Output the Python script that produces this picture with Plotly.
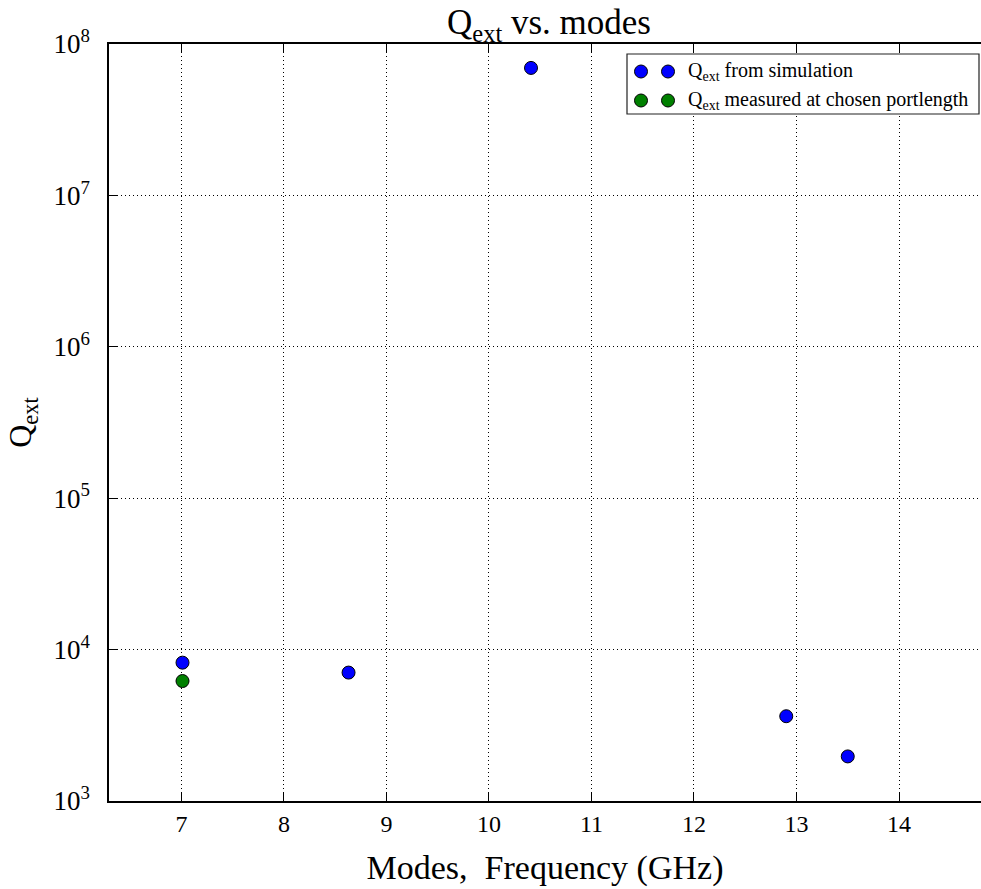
import math
import plotly.graph_objects as go

# Simulated external Q per mode
sim_freq = [7.01, 8.63, 10.41, 12.90, 13.50]
sim_qext = [8200, 7050, 6.95e7, 3630, 1970]

# External Q measured at the chosen port length
meas_freq = [7.01]
meas_qext = [6200]

sim_label = "Q<sub>ext</sub> from simulation"
meas_label = "Q<sub>ext</sub> measured at chosen portlength"

x_ticks = [7, 8, 9, 10, 11, 12, 13, 14]
y_exponents = [3, 4, 5, 6, 7, 8]
y_ticks = [10 ** e for e in y_exponents]
y_ticktext = [f"10<sup>{e}</sup>" for e in y_exponents]
y_minor = [m * 10 ** e for e in range(3, 8) for m in range(2, 10)]

FONT = "Liberation Serif"
W, H = 981, 889
ML, MR, MT, MB = 109, 0, 44, 88
GRID_DASH = "1px,3px"

fig = go.Figure()

marker_line = dict(color="black", width=1)
fig.add_trace(go.Scatter(x=sim_freq, y=sim_qext, mode="markers", name=sim_label,
                         marker=dict(size=13, color="#0000ff", line=marker_line),
                         showlegend=False))
fig.add_trace(go.Scatter(x=meas_freq, y=meas_qext, mode="markers", name=meas_label,
                         marker=dict(size=13, color="#008000", line=marker_line),
                         showlegend=False))

axis_common = dict(
    showline=True, linecolor="black", linewidth=1.5,
    ticks="inside", ticklen=8, tickwidth=1, tickcolor="black",
    showgrid=True, gridcolor="black", griddash=GRID_DASH, gridwidth=1,
    zeroline=False,
)

fig.update_xaxes(**axis_common, range=[6.293, 14.80], tickvals=x_ticks,
                 mirror="ticks",
                 tickfont=dict(family=FONT, size=24, color="black"),
                 title=dict(text="Modes,  Frequency (GHz)", standoff=20,
                            font=dict(family=FONT, size=34, color="black")))
fig.update_yaxes(**axis_common, type="log", range=[3, 8],
                 tickmode="array", tickvals=y_ticks, ticktext=y_ticktext,
                 ticklabelstandoff=12,
                 tickfont=dict(family=FONT, size=27, color="black"),
                 title=dict(text="Q<sub>ext</sub>", standoff=12,
                            font=dict(family=FONT, size=32, color="black")))

pw, ph = W - ML - MR, H - MT - MB

# Minor log ticks along the left spine (log axis shapes take log10 values)
for v in y_minor:
    lv = math.log10(v)
    fig.add_shape(type="line", xref="paper", yref="y",
                  x0=0, x1=4 / pw, y0=lv, y1=lv,
                  line=dict(color="black", width=1), layer="above")


# Legend box with two marker samples per entry (pixel geometry converted to paper)
def px(xp):
    return (xp - ML) / pw


def py(yp):
    return (H - MB - yp) / ph


fig.add_shape(type="rect", xref="paper", yref="paper",
              x0=px(627), x1=px(979), y0=py(114), y1=py(54),
              line=dict(color="#222222", width=1.2), fillcolor="white", layer="above")

entries = [(sim_label, "#0000ff", 71.5), (meas_label, "#008000", 100.5)]
for text, color, yy in entries:
    for xx in (641, 668):
        fig.add_shape(type="circle", xref="paper", yref="paper",
                      xsizemode="pixel", ysizemode="pixel",
                      xanchor=px(xx), yanchor=py(yy),
                      x0=-6.5, x1=6.5, y0=-6.5, y1=6.5,
                      fillcolor=color, line=dict(color="black", width=1), layer="above")
    fig.add_annotation(xref="paper", yref="paper", x=px(686), y=py(yy),
                       xanchor="left", yanchor="middle", showarrow=False,
                       text=text, font=dict(family=FONT, size=20, color="black"))

fig.update_layout(
    width=W, height=H,
    margin=dict(l=ML, r=MR, t=MT, b=MB),
    paper_bgcolor="white", plot_bgcolor="white",
    title=dict(text="Q<sub>ext</sub> vs. modes", x=549 / W, xanchor="center",
               y=1 - 22 / H, yanchor="middle", yref="container",
               font=dict(family=FONT, size=35, color="black")),
)

fig.write_html("out.html")
